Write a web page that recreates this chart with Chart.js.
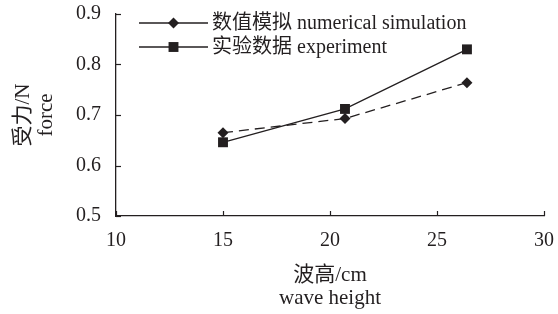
<!DOCTYPE html>
<html><head><meta charset="utf-8">
<script src="https://cdn.jsdelivr.net/npm/chart.js@4/dist/chart.umd.min.js"></script>
<style>html,body{margin:0;padding:0;background:#fff}</style>
</head><body>
<canvas id="c" width="558" height="314"></canvas>
<script>
const waveHeight = [15, 20.7, 26.4];
const simForce = [0.665, 0.693, 0.764];
const expForce = [0.646, 0.712, 0.830];
const seriesLabels = ['数值模拟 numerical simulation', '实验数据 experiment'];
const xTicks = [10, 15, 20, 25, 30];
const yTicks = [0.5, 0.6, 0.7, 0.8, 0.9];
const xTitle = ['波高/cm', 'wave height'];
const yTitle = ['受力/N', 'force'];

const ink = '#231f20';
const serif = "'Liberation Serif', 'Noto Sans CJK SC', serif";

// ticks point inwards in the original, so draw them by hand
const innerTicks = {
  id: 'innerTicks',
  afterDatasetsDraw(chart){
    const {ctx, scales:{x, y}} = chart;
    ctx.save();
    ctx.strokeStyle = ink; ctx.lineWidth = 1.2;
    x.ticks.forEach(t=>{
      const px = Math.round(x.getPixelForValue(t.value)) + 0.5;
      ctx.beginPath(); ctx.moveTo(px, y.bottom); ctx.lineTo(px, y.bottom - 5); ctx.stroke();
    });
    y.ticks.forEach(t=>{
      const py = Math.round(y.getPixelForValue(t.value)) + 0.5;
      ctx.beginPath(); ctx.moveTo(x.left, py); ctx.lineTo(x.left + 5, py); ctx.stroke();
    });
    ctx.restore();
  }
};

// legend inside the plot: solid line with marker in the middle
const insideLegend = {
  id: 'insideLegend',
  afterDraw(chart){
    const {ctx, chartArea} = chart;
    ctx.save();
    chart.data.datasets.forEach((ds, i)=>{
      const yy = chartArea.top + 9 + i * 24;
      const x0 = chartArea.left + 23, x1 = x0 + 69;
      ctx.setLineDash([]);
      ctx.strokeStyle = ink; ctx.lineWidth = 1.3;
      ctx.beginPath(); ctx.moveTo(x0, yy); ctx.lineTo(x1, yy); ctx.stroke();
      ctx.fillStyle = ink;
      Chart.helpers.drawPoint(ctx, {pointStyle: ds.pointStyle, radius: ds.pointRadius, rotation: 0, borderWidth: 0}, (x0 + x1) / 2, yy);
      ctx.font = '20px ' + serif;
      ctx.textBaseline = 'middle'; ctx.textAlign = 'left';
      ctx.fillText(ds.label, x1 + 4, yy + 1);
    });
    ctx.restore();
  }
};

new Chart(document.getElementById('c'), {
  type: 'line',
  data: {
    datasets: [
      { label: seriesLabels[0], data: waveHeight.map((v, i)=>({x: v, y: simForce[i]})),
        borderColor: ink, backgroundColor: ink, borderWidth: 1.3, borderDash: [10, 6],
        pointStyle: 'rectRot', pointRadius: 5.5, pointBorderWidth: 0 },
      { label: seriesLabels[1], data: waveHeight.map((v, i)=>({x: v, y: expForce[i]})),
        borderColor: ink, backgroundColor: ink, borderWidth: 1.3,
        pointStyle: 'rect', pointRadius: 7, pointBorderWidth: 0 }
    ]
  },
  options: {
    responsive: false, animation: false, devicePixelRatio: 1,
    layout: { padding: { left: 0, right: 14, top: 14, bottom: 0 } },
    plugins: { legend: { display: false }, tooltip: { enabled: false } },
    scales: {
      x: {
        type: 'linear', min: 10, max: 30,
        afterBuildTicks: s=>{ s.ticks = xTicks.map(v=>({value: v})); },
        afterFit: s=>{ s.height = 98; s.paddingLeft = 0; s.paddingRight = 0; },
        grid: { display: false, drawTicks: false },
        border: { display: true, color: ink, width: 1.3 },
        ticks: { color: ink, font: { family: serif, size: 20 }, padding: 13, maxRotation: 0 },
        title: { display: true, text: xTitle, color: ink, font: { family: serif, size: 21, lineHeight: 1.1 }, padding: { top: 0, bottom: 4 } }
      },
      y: {
        type: 'linear', min: 0.5, max: 0.9,
        afterBuildTicks: s=>{ s.ticks = yTicks.map(v=>({value: v})); },
        afterFit: s=>{ s.width = 116; s.paddingTop = 0; s.paddingBottom = 0; },
        grid: { display: false, drawTicks: false },
        border: { display: true, color: ink, width: 1.3 },
        ticks: { color: ink, font: { family: serif, size: 20 }, padding: 15, callback: v=>v.toFixed(1) },
        title: { display: true, text: yTitle, color: ink, font: { family: serif, size: 21, lineHeight: 1.1 }, padding: { top: 12, bottom: 0 } }
      }
    }
  },
  plugins: [innerTicks, insideLegend]
});
</script>
</body></html>
